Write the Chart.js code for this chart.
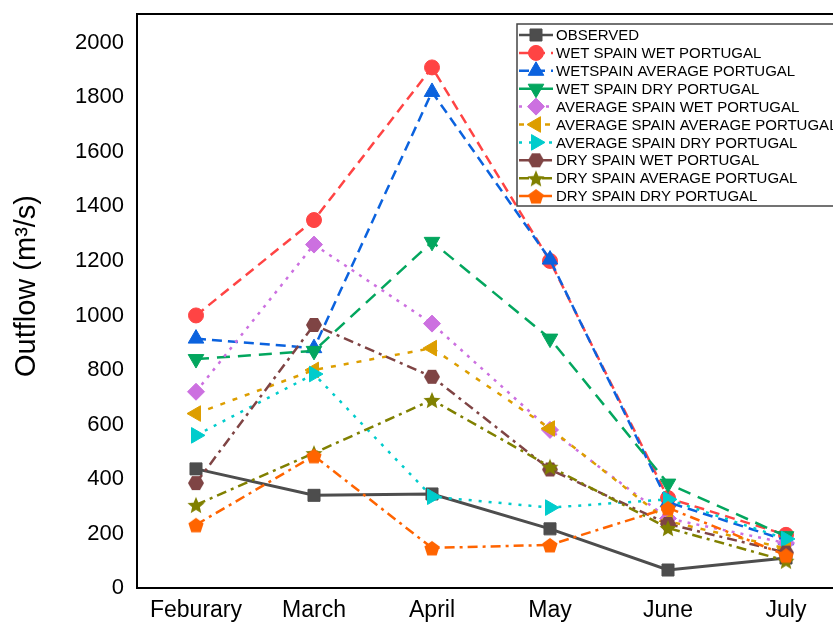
<!DOCTYPE html>
<html>
<head>
<meta charset="utf-8">
<script src="https://cdn.jsdelivr.net/npm/chart.js@4.4.1/dist/chart.umd.min.js"></script>
<style>
html, body { margin: 0; padding: 0; overflow: hidden; background: #fff; }
</style>
</head>
<body>
<canvas id="myChart" width="860" height="623"></canvas>
<script>
const months = ["Feburary", "March", "April", "May", "June", "July"];
const yTicks = [0, 200, 400, 600, 800, 1000, 1200, 1400, 1600, 1800, 2000];

const observed = [437, 340, 345, 217, 66, 110];
const wetWet = [1000, 1350, 1910, 1200, 330, 195];
const wetAvg = [915, 880, 1820, 1205, 315, 175];
const wetDry = [840, 870, 1270, 915, 383, 190];
const avgWet = [720, 1260, 970, 580, 255, 165];
const avgAvg = [640, 800, 880, 585, 245, 145];
const avgDry = [560, 785, 335, 295, 325, 180];
const dryWet = [385, 965, 775, 435, 235, 130];
const dryAvg = [305, 495, 690, 445, 220, 100];
const dryDry = [232, 485, 147, 158, 294, 120];

const FONT = "'Liberation Sans', Arial, sans-serif";

// little canvases for the marker shapes chart.js does not have
function makeShape(kind, color, r) {
    let c = document.createElement("canvas");
    c.width = r * 2 + 2;
    c.height = r * 2 + 2;
    let ctx = c.getContext("2d");
    let cx = r + 1, cy = r + 1;
    ctx.fillStyle = color;
    ctx.beginPath();
    if (kind === "hexagon") {
        for (let i = 0; i < 6; i++) {
            let a = i * Math.PI / 3;
            ctx.lineTo(cx + Math.cos(a) * r, cy + Math.sin(a) * r);
        }
    } else if (kind === "pentagon") {
        for (let i = 0; i < 5; i++) {
            let a = -Math.PI / 2 + i * 2 * Math.PI / 5;
            ctx.lineTo(cx + Math.cos(a) * r, cy + Math.sin(a) * r + 1);
        }
    } else {
        for (let i = 0; i < 10; i++) {
            let a = -Math.PI / 2 + i * Math.PI / 5;
            let rr = i % 2 === 0 ? r : r * 0.45;
            ctx.lineTo(cx + Math.cos(a) * rr, cy + Math.sin(a) * rr + 1);
        }
    }
    ctx.closePath();
    ctx.fill();
    return c;
}

function makeSet(label, data, color, style, rotation, radius, dash, width) {
    return {
        label: label,
        data: data,
        borderColor: color,
        backgroundColor: color,
        pointBackgroundColor: color,
        pointBorderColor: color,
        pointBorderWidth: 1,
        pointStyle: style,
        pointRotation: rotation,
        pointRadius: radius,
        borderDash: dash,
        borderWidth: width || 2.5,
        tension: 0,
        fill: false
    };
}

let datasets = [
    makeSet("OBSERVED", observed, "#4d4d4d", "rect", 0, 8.5, [], 3),
    makeSet("WET SPAIN WET PORTUGAL", wetWet, "#ff4444", "circle", 0, 7.5, [10, 6]),
    makeSet("WETSPAIN AVERAGE PORTUGAL", wetAvg, "#0b62de", "triangle", 0, 9, [10, 6]),
    makeSet("WET SPAIN DRY PORTUGAL", wetDry, "#03a65e", "triangle", 180, 9, [13, 8]),
    makeSet("AVERAGE SPAIN WET PORTUGAL", avgWet, "#cc70e0", "rectRot", 0, 8.5, [3, 6]),
    makeSet("AVERAGE SPAIN AVERAGE PORTUGAL", avgAvg, "#dd9e00", "triangle", 270, 9, [5, 8]),
    makeSet("AVERAGE SPAIN DRY PORTUGAL", avgDry, "#00cccc", "triangle", 90, 9, [3, 7]),
    makeSet("DRY SPAIN WET PORTUGAL", dryWet, "#7f4444", makeShape("hexagon", "#7f4444", 8), 0, 8, [10, 5, 3, 5]),
    makeSet("DRY SPAIN AVERAGE PORTUGAL", dryAvg, "#808000", makeShape("star", "#808000", 9), 0, 9, [10, 5, 3, 5]),
    makeSet("DRY SPAIN DRY PORTUGAL", dryDry, "#ff6400", makeShape("pentagon", "#ff6400", 8), 0, 8, [10, 5, 3, 5])
];
// later series sit on top, like the original
datasets.forEach((ds, i) => { ds.order = 20 - i; });

const legendBox = {
    id: "legendBox",
    afterDraw(chart) {
        let ctx = chart.ctx;
        let area = chart.chartArea;
        ctx.save();
        // top frame line
        ctx.strokeStyle = "#000";
        ctx.lineWidth = 2;
        ctx.beginPath();
        ctx.moveTo(area.left - 1, area.top);
        ctx.lineTo(area.right, area.top);
        ctx.stroke();

        // y axis title
        ctx.save();
        ctx.translate(27, 286);
        ctx.rotate(-Math.PI / 2);
        ctx.font = "29px " + FONT;
        ctx.fillStyle = "#000";
        ctx.textAlign = "center";
        ctx.textBaseline = "middle";
        ctx.fillText("Outflow (m\u00b3/s)", 0, 0);
        ctx.restore();

        ctx.fillStyle = "#fff";
        ctx.fillRect(517, 24, 400, 182);
        ctx.strokeStyle = "#444";
        ctx.lineWidth = 1.5;
        ctx.strokeRect(517, 24, 400, 182);

        ctx.font = "15px " + FONT;
        ctx.textBaseline = "middle";
        chart.data.datasets.forEach((ds, i) => {
            let y = 35 + i * 17.9;
            ctx.setLineDash(ds.borderDash);
            ctx.strokeStyle = ds.borderColor;
            ctx.lineWidth = 2.5;
            ctx.beginPath();
            ctx.moveTo(519, y);
            ctx.lineTo(553, y);
            ctx.stroke();
            ctx.setLineDash([]);
            ctx.fillStyle = ds.pointBackgroundColor;
            ctx.strokeStyle = ds.pointBorderColor;
            ctx.lineWidth = 1;
            Chart.helpers.drawPoint(ctx, {
                pointStyle: ds.pointStyle,
                rotation: ds.pointRotation,
                radius: ds.pointRadius,
                borderWidth: 1
            }, 536, y);
            ctx.fillStyle = "#000";
            ctx.fillText(ds.label, 556, y + 1);
        });
        ctx.restore();
    }
};

let myChart = new Chart("myChart", {
    type: "line",
    data: {
        labels: months,
        datasets: datasets
    },
    plugins: [legendBox],
    options: {
        responsive: false,
        animation: false,
        layout: { padding: { top: 14, right: 15, left: 0, bottom: 0 } },
        plugins: {
            legend: { display: false },
            tooltip: { enabled: false }
        },
        scales: {
            x: {
                type: "category",
                offset: true,
                grid: { drawOnChartArea: false, drawTicks: false },
                border: { display: true, color: "#000", width: 2 },
                ticks: {
                    color: "#000",
                    padding: 9,
                    maxRotation: 0,
                    font: { family: FONT, size: 23 }
                },
                afterFit(scale) { scale.height = 35; }
            },
            y: {
                min: 0,
                max: 2106,
                grid: { drawOnChartArea: false, drawTicks: false },
                border: { display: true, color: "#000", width: 2 },
                ticks: {
                    color: "#000",
                    padding: 13,
                    font: { family: FONT, size: 22 },
                    callback: v => String(v)
                },
                afterBuildTicks(scale) {
                    scale.ticks = yTicks.map(v => ({ value: v }));
                },
                afterFit(scale) {
                    scale.width = 137;
                    scale.paddingTop = 0;
                    scale.paddingBottom = 0;
                }
            }
        }
    }
});
</script>
</body>
</html>
